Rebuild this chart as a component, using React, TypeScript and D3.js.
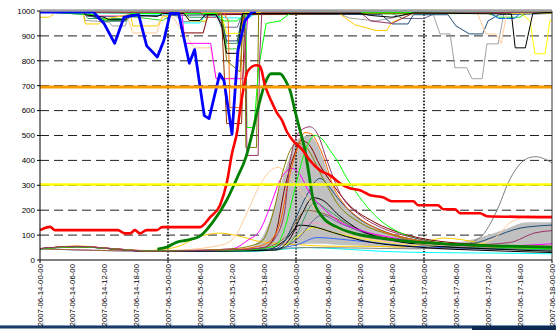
import * as d3 from 'd3';

type Pt = [number, number];

// x values are hours after 2007-06-14 00:00
const tickLabels = [
  '2007-06-14-00-00', '2007-06-14-06-00', '2007-06-14-12-00', '2007-06-14-18-00',
  '2007-06-15-00-00', '2007-06-15-06-00', '2007-06-15-12-00', '2007-06-15-18-00',
  '2007-06-16-00-00', '2007-06-16-06-00', '2007-06-16-12-00', '2007-06-16-18-00',
  '2007-06-17-00-00', '2007-06-17-06-00', '2007-06-17-12-00', '2007-06-17-18-00',
  '2007-06-18-00-00',
];
const dayBreaks = [24, 48, 72];
const yTicks = [0, 100, 200, 300, 400, 500, 600, 700, 800, 900, 1000];
const thresholdHigh = 695;
const thresholdLow = 303;

// ensemble spread
const bandHours = [36, 38.4, 41.25, 43.1, 45, 46.9, 48.75, 50.6, 51.9, 53.4, 54.9, 56.8, 59.4, 61.9, 63.75, 67.5, 71.8, 76.9, 82.5, 86.8, 91.3, 96];
const bandLow = [38, 40, 45, 50, 55, 60, 62, 65, 65, 65, 62, 60, 58, 55, 52, 48, 45, 42, 40, 40, 40, 40];
const bandHigh = [40, 45, 80, 160, 292, 420, 492, 500, 468, 388, 292, 228, 172, 140, 120, 95, 75, 68, 90, 120, 152, 152];

// thick lines
const blueThick: Pt[] = [[0, 996], [10, 996], [12, 950], [14, 870], [15.75, 975], [18.5, 985], [20, 860], [22, 815], [23.2, 880], [24.4, 990], [26, 990], [28, 790], [29, 845], [30.8, 580], [31.7, 568], [33.7, 748], [34.5, 720], [36, 505], [37.1, 840], [38.4, 960], [39.8, 998], [40.5, 998]];
const redThick: Pt[] = [[0, 120], [1.9, 133], [2.8, 120], [14.6, 120], [15.9, 107], [16.9, 107], [17.8, 120], [18.75, 107], [20, 120], [21.9, 120], [22.9, 132], [30, 132], [31.9, 172], [33.75, 220], [35, 308], [36, 428], [37, 520], [37.5, 600], [39, 760], [40.5, 782], [41.25, 778], [42.2, 700], [43.5, 632], [44.4, 592], [45.4, 560], [46.3, 515], [47.4, 480], [49.1, 445], [50.6, 400], [52.5, 360], [54.4, 340], [56.25, 308], [58.1, 288], [60, 280], [61.9, 260], [64.3, 252], [66, 236], [70, 236], [70.9, 220], [74.6, 220], [75.6, 204], [77.8, 204], [78.75, 188], [82.5, 188], [83.8, 176], [96, 172]];
const greenThick: Pt[] = [[22, 44], [23.8, 52], [25.7, 72], [27.6, 80], [30, 96], [32.4, 152], [35, 240], [37, 332], [38.6, 412], [39.7, 500], [41, 620], [42.2, 710], [43.3, 748], [45, 748], [46, 722], [46.9, 680], [47.8, 600], [48.75, 520], [49.7, 440], [50.4, 348], [51.2, 245], [53, 172], [55.7, 132], [58.7, 108], [63.75, 88], [72, 70], [84, 58], [96, 52]];

// upper members
const topGold: Pt[] = [[0, 975], [1.8, 975], [3, 997], [8, 997], [8.5, 948], [11, 948], [12, 968], [17, 985], [17.4, 940], [22, 940], [23, 975], [26, 992], [56, 992], [59, 945], [63, 922], [65, 922], [66, 955], [70, 990], [96, 992]];
const topYellow: Pt[] = [[0, 997], [27, 997], [28, 960], [31, 960], [32, 990], [34, 990], [35, 910], [37.5, 910], [38.5, 995], [90, 995], [91.9, 960], [92.8, 828], [94.7, 828], [95.6, 960], [96, 965]];
const topGray: Pt[] = [[0, 998], [8, 998], [8.5, 962], [13, 955], [13.5, 940], [16, 940], [16.5, 975], [25, 985], [27, 958], [31, 958], [32, 990], [56, 990], [58, 972], [63, 960], [66, 972], [70, 992], [73.7, 988], [75, 908], [76.9, 908], [77.8, 772], [80, 772], [81, 728], [82.9, 728], [83.8, 868], [85.9, 868], [87, 992], [96, 992]];
const topPeach: Pt[] = [[0, 998], [16, 998], [17.4, 912], [21.9, 912], [23, 985], [25, 975], [26.3, 930], [29, 852], [32, 852], [33, 730], [37, 730], [38, 992], [82, 992], [83.6, 908], [85.5, 908], [86.5, 870], [87.5, 992], [96, 995]];
const topMagenta: Pt[] = [[0, 998], [26.6, 992], [27.2, 870], [32, 870], [33, 728], [38, 728], [39, 990], [96, 995]];
const topDarkRed: Pt[] = [[0, 996], [26, 996], [26.6, 912], [30.6, 912], [31.5, 985], [96, 995]];
const topBrown: Pt[] = [[0, 997], [34, 990], [35, 548], [37.8, 548], [38.4, 990], [96, 996]];
const topMauve: Pt[] = [[0, 995], [30, 995], [31, 975], [33, 975], [34, 990], [38.3, 990], [38.6, 820], [38.8, 420], [40.9, 420], [41.2, 820], [41.6, 995], [60, 995], [62, 960], [66, 950], [70, 992], [96, 995]];
const topLime: Pt[] = [[0, 997], [10, 985], [12, 965], [16, 965], [17, 990], [33, 990], [34.5, 960], [37, 960], [38.6, 990], [38.8, 532], [40.1, 532], [41, 772], [42.4, 950], [45, 960], [47, 992], [96, 995]];
const topOlive: Pt[] = [[0, 995], [34, 990], [35, 800], [37.5, 755], [38.2, 990], [38.4, 990], [38.6, 452], [40.6, 452], [41, 990], [96, 995]];
const topOrange: Pt[] = [[0, 996], [34.5, 990], [35.3, 960], [35.6, 612], [37.5, 612], [38, 990], [96, 995]];
const topBlack: Pt[] = [[0, 1000], [8, 1000], [8.5, 985], [12, 975], [13, 965], [16, 965], [17, 985], [22, 978], [23, 990], [27, 990], [28, 962], [30, 962], [31, 985], [33, 985], [34, 948], [35, 830], [37, 830], [38, 990], [60, 990], [62, 982], [66, 975], [70, 992], [88.4, 988], [89.1, 852], [91, 852], [92.4, 990], [96, 995]];
const topNavy: Pt[] = [[0, 998], [9, 985], [12, 960], [16, 960], [17, 980], [33, 985], [34, 960], [35, 880], [37, 880], [38, 990], [64, 985], [66, 948], [69, 948], [70, 985], [76.5, 985], [78, 940], [80.5, 908], [83, 908], [84, 960], [86, 985], [96, 990]];
const topGreen: Pt[] = [[0, 1000], [9, 992], [12, 960], [16, 960], [17, 978], [23, 962], [25, 990], [34, 985], [35, 848], [37, 848], [38, 985], [84, 990], [86, 975], [90, 975], [91, 990], [96, 990]];
const topCyan: Pt[] = [[0, 996], [26, 986], [27, 952], [30, 952], [31, 985], [35, 972], [39, 972], [41, 995], [96, 996]];
const topTeal: Pt[] = [[0, 999], [8, 999], [9, 970], [16, 970], [17, 990], [27, 990], [28, 975], [31, 975], [32, 992], [34, 992], [35, 870], [37, 870], [38, 992], [96, 992]];
const topSlate: Pt[] = [[0, 999], [8, 999], [9, 978], [16, 978], [17, 992], [33, 990], [34, 935], [37, 935], [38, 990], [66, 990], [68, 970], [72, 970], [74, 990], [96, 990]];
const topPink: Pt[] = [[0, 999], [8, 995], [9, 982], [16, 982], [17, 996], [96, 996]];
const topBlue: Pt[] = [[0, 999], [84, 999], [86, 970], [89, 970], [90, 990], [96, 995]];

// lower members
const botPeach: Pt[] = [[0, 44], [7, 54], [14, 44], [20, 37], [26, 40], [34, 60], [36.5, 92], [38.8, 190], [41.2, 300], [43, 355], [44.6, 372], [46, 355], [48, 300], [50, 250], [53, 170], [57, 110], [63, 80], [72, 60], [80, 60], [84, 75], [85.7, 96], [88, 148], [90, 168], [91.3, 176], [96, 176]];
const botMagenta: Pt[] = [[0, 45], [7, 55], [14, 45], [20, 38], [26, 38], [36, 45], [39, 80], [41.25, 120], [43.1, 212], [45, 320], [47.25, 368], [48.5, 350], [50.6, 268], [53, 210], [55.7, 160], [60, 120], [66, 90], [72, 70], [84, 55], [96, 65]];
const botOrange: Pt[] = [[0, 45], [7, 54], [14, 45], [20, 37], [26, 38], [36, 42], [41, 55], [43.1, 75], [45, 150], [46.9, 348], [48.2, 445], [49.7, 512], [51, 505], [52, 470], [53.4, 400], [54.9, 300], [56.8, 230], [59.4, 175], [61.9, 140], [63.75, 120], [67.5, 95], [71.8, 75], [82.5, 60], [96, 55]];
const botMauve: Pt[] = [[0, 46], [7, 55], [14, 44], [20, 36], [26, 37], [38, 42], [42, 50], [44, 85], [45.9, 200], [46.9, 400], [48.9, 520], [50.6, 535], [52, 508], [53.8, 400], [56.25, 268], [60, 180], [64, 130], [70, 90], [80, 60], [88, 70], [93, 110], [96, 118]];
const botDarkRed: Pt[] = [[0, 45], [7, 53], [14, 44], [20, 36], [26, 37], [38, 42], [42, 50], [44, 95], [46, 300], [48, 440], [49, 480], [50.5, 462], [52.5, 380], [55, 300], [58, 220], [62, 160], [66, 120], [72, 85], [84, 60], [96, 50]];
const botLime: Pt[] = [[0, 44], [7, 53], [14, 44], [20, 37], [26, 38], [38, 40], [44, 55], [45.6, 108], [47.4, 252], [49.3, 410], [50.6, 480], [51.5, 500], [52.7, 490], [54.4, 440], [55.7, 400], [57.5, 330], [59.4, 268], [63.75, 160], [67.5, 110], [72, 80], [84, 55], [96, 45]];
const botOlive: Pt[] = [[0, 45], [7, 54], [14, 44], [20, 36], [26, 37], [36, 45], [40, 60], [41.8, 80], [43.7, 188], [45.6, 360], [46.9, 440], [48.2, 470], [50, 450], [53, 330], [56, 220], [60, 150], [66, 100], [72, 70], [96, 45]];
const botNavy: Pt[] = [[0, 45], [7, 53], [14, 44], [20, 35], [26, 36], [38, 40], [44, 45], [46, 80], [47.8, 160], [50, 260], [52.5, 328], [54, 300], [55.7, 252], [59.4, 172], [64, 120], [72, 75], [78, 60], [82, 70], [85, 92], [90, 128], [93, 136], [96, 140]];
const botBlack1: Pt[] = [[0, 46], [7, 54], [14, 45], [20, 36], [26, 36], [38, 38], [44, 40], [47, 90], [49, 180], [51.2, 250], [53, 240], [56, 180], [60, 120], [66, 80], [72, 60], [84, 45], [96, 35]];
const botTeal: Pt[] = [[0, 45], [7, 54], [14, 45], [20, 36], [26, 37], [38, 40], [45, 42], [48, 100], [51.5, 230], [54, 200], [58, 140], [64, 90], [72, 60], [84, 48], [96, 40]];
const botBlack2: Pt[] = [[0, 45], [7, 54], [14, 44], [20, 35], [26, 35], [38, 36], [42, 38], [46, 80], [48.75, 140], [51, 135], [55, 110], [60, 80], [72, 50], [84, 38], [96, 30]];
const botSlate: Pt[] = [[0, 45], [7, 54], [14, 44], [20, 36], [26, 37], [38, 38], [44, 40], [48, 80], [52.9, 180], [56, 150], [62, 100], [72, 60], [84, 45], [96, 40]];
const botYellow: Pt[] = [[0, 45], [7, 55], [14, 44], [20, 36], [26, 37], [38, 38], [44, 40], [48, 90], [51.2, 130], [55, 110], [62, 80], [72, 55], [84, 45], [96, 40]];
const botGold: Pt[] = [[0, 44], [7, 56], [14, 45], [20, 38], [23, 42], [26, 55], [30, 95], [33.75, 108], [37.5, 95], [41, 75], [48, 62], [56, 55], [62, 55], [68, 52], [72, 70], [75.6, 88], [79, 82], [82.5, 68], [86, 55], [96, 50]];
const botCyan: Pt[] = [[0, 45], [7, 53], [14, 44], [20, 35], [30, 34], [40, 35], [44, 40], [50, 50], [56, 45], [64, 35], [72, 30], [84, 28], [96, 25]];
const botGray: Pt[] = [[0, 45], [7, 54], [14, 44], [20, 36], [30, 36], [40, 40], [50, 50], [60, 48], [70, 45], [78, 55], [82.5, 90], [85.7, 200], [88, 320], [90.2, 390], [91.6, 410], [93, 415], [94.7, 405], [96, 390]];
const botBlue: Pt[] = [[0, 45], [20, 36], [40, 40], [48, 60], [52, 90], [58, 80], [70, 55], [96, 40]];
const botPink: Pt[] = [[0, 45], [20, 37], [40, 42], [46, 70], [50, 150], [54, 140], [60, 100], [72, 60], [96, 45]];
const botBrown: Pt[] = [[0, 45], [20, 36], [40, 40], [46, 90], [50, 200], [54, 180], [60, 120], [72, 70], [96, 50]];

const topSeries = [
  { data: topPink, color: '#FF99CC' }, { data: topSlate, color: '#666699' }, { data: topTeal, color: '#339966' },
  { data: topGray, color: '#A0A0A0' }, { data: topCyan, color: '#00FFFF' }, { data: topGreen, color: '#33CC33' },
  { data: topNavy, color: '#1F4E79' }, { data: topBlue, color: '#0066FF' }, { data: topPeach, color: '#FFCC99' },
  { data: topGold, color: '#FFCC00' }, { data: topYellow, color: '#FFFF00' }, { data: topMagenta, color: '#FF00FF' },
  { data: topDarkRed, color: '#800000' }, { data: topBrown, color: '#993300' }, { data: topOrange, color: '#FF6600' },
  { data: topOlive, color: '#808000' }, { data: topLime, color: '#00FF00' }, { data: topMauve, color: '#993366' },
  { data: topBlack, color: '#000000' },
];
const botSeries = [
  { data: botCyan, color: '#00FFFF' }, { data: botGray, color: '#808080' }, { data: botGold, color: '#FFCC00' },
  { data: botYellow, color: '#FFFF00' }, { data: botBlue, color: '#3366FF' }, { data: botPink, color: '#FF99CC' },
  { data: botBrown, color: '#996633' }, { data: botSlate, color: '#666699' }, { data: botBlack2, color: '#000000' },
  { data: botTeal, color: '#339966' }, { data: botBlack1, color: '#000000' }, { data: botNavy, color: '#1F4E79' },
  { data: botPeach, color: '#FFCC99' }, { data: botMagenta, color: '#FF00FF' }, { data: botOlive, color: '#808000' },
  { data: botDarkRed, color: '#800000' }, { data: botOrange, color: '#FF6600' }, { data: botLime, color: '#00FF00' },
  { data: botMauve, color: '#993366' },
];

export default function App() {
  const W = 556;
  const H = 330;
  const x = d3.scaleLinear().domain([0, 96]).range([40, 552]);
  const y = d3.scaleLinear().domain([0, 1000]).range([260, 11]);
  const lin = d3.line<Pt>().x((d) => x(d[0])).y((d) => y(d[1]));
  const smooth = d3.line<Pt>().x((d) => x(d[0])).y((d) => y(d[1])).curve(d3.curveMonotoneX);
  const band = d3
    .area<number>()
    .x((i) => x(bandHours[i]))
    .y0((i) => y(bandLow[i]))
    .y1((i) => y(bandHigh[i]))
    .curve(d3.curveMonotoneX);
  const font = 'Liberation Sans, Arial, sans-serif';
  const [x0, x1] = x.range();

  return (
    <svg width={W} height={H} style={{ position: 'absolute', left: 0, top: 0, background: '#fff' }} fontFamily={font}>
      {/* grid */}
      {yTicks.slice(1, -1).map((t) => (
        <line key={t} x1={x0} x2={x1} y1={y(t)} y2={y(t)} stroke="#222" strokeWidth={1} strokeDasharray="9,5" />
      ))}
      <path d={band(bandHours.map((_, i) => i)) || ''} fill="#C0C0C0" />
      {dayBreaks.map((h) => (
        <line key={h} x1={x(h)} x2={x(h)} y1={y(1000)} y2={y(0)} stroke="#000" strokeWidth={1.6} strokeDasharray="1.6,1.6" />
      ))}
      {botSeries.map((s, i) => (
        <path key={'b' + i} d={smooth(s.data) || ''} fill="none" stroke={s.color} strokeWidth={1} />
      ))}
      {topSeries.map((s, i) => (
        <path key={'t' + i} d={lin(s.data) || ''} fill="none" stroke={s.color} strokeWidth={1} />
      ))}
      <path d={smooth(greenThick) || ''} fill="none" stroke="#008000" strokeWidth={2.8} />
      <path d={smooth(redThick) || ''} fill="none" stroke="#FF0000" strokeWidth={2.6} />
      <path d={lin(blueThick) || ''} fill="none" stroke="#0000FF" strokeWidth={2.8} strokeLinejoin="round" />
      <line x1={x0} x2={x1} y1={y(thresholdHigh)} y2={y(thresholdHigh)} stroke="#FF9900" strokeWidth={3} />
      <line x1={x0} x2={x1} y1={y(thresholdLow)} y2={y(thresholdLow)} stroke="#FFFF00" strokeWidth={2.5} />
      {/* frame */}
      <line x1={x0} x2={x1} y1={y(1000) - 0.5} y2={y(1000) - 0.5} stroke="#A0A0A0" strokeWidth={2.5} />
      <line x1={x1} x2={x1} y1={y(1000)} y2={y(0)} stroke="#333" strokeWidth={1} />
      <line x1={x0} x2={x0} y1={y(1000)} y2={y(0)} stroke="#000" strokeWidth={1} />
      <line x1={x0} x2={x1} y1={y(0)} y2={y(0)} stroke="#000" strokeWidth={1} />
      {yTicks.map((t) => (
        <g key={t}>
          <line x1={x0 - 3} x2={x0} y1={y(t)} y2={y(t)} stroke="#000" />
          <text x={x0 - 5} y={y(t)} dy="0.35em" textAnchor="end" fontSize={8} fill="#000">
            {t}
          </text>
        </g>
      ))}
      {[0, ...dayBreaks, 96].map((h) => (
        <line key={h} x1={x(h)} x2={x(h)} y1={y(0)} y2={y(0) + 3} stroke="#000" />
      ))}
      {/* page rule under the chart */}
      <rect x={0} y={325} width={W} height={1} fill="#6F8FBF" />
      <rect x={0} y={326} width={W} height={2.5} fill="#1B3A66" />
      <rect x={472} y={326} width={W - 472} height={4} fill="#0F2A50" />
      {tickLabels.map((lab, i) => (
        <text
          key={lab}
          transform={`translate(${x(i * 6)},264) rotate(-90)`}
          textAnchor="end"
          dy="0.35em"
          fontSize={7.8}
          fill="#000"
        >
          {lab}
        </text>
      ))}
    </svg>
  );
}
